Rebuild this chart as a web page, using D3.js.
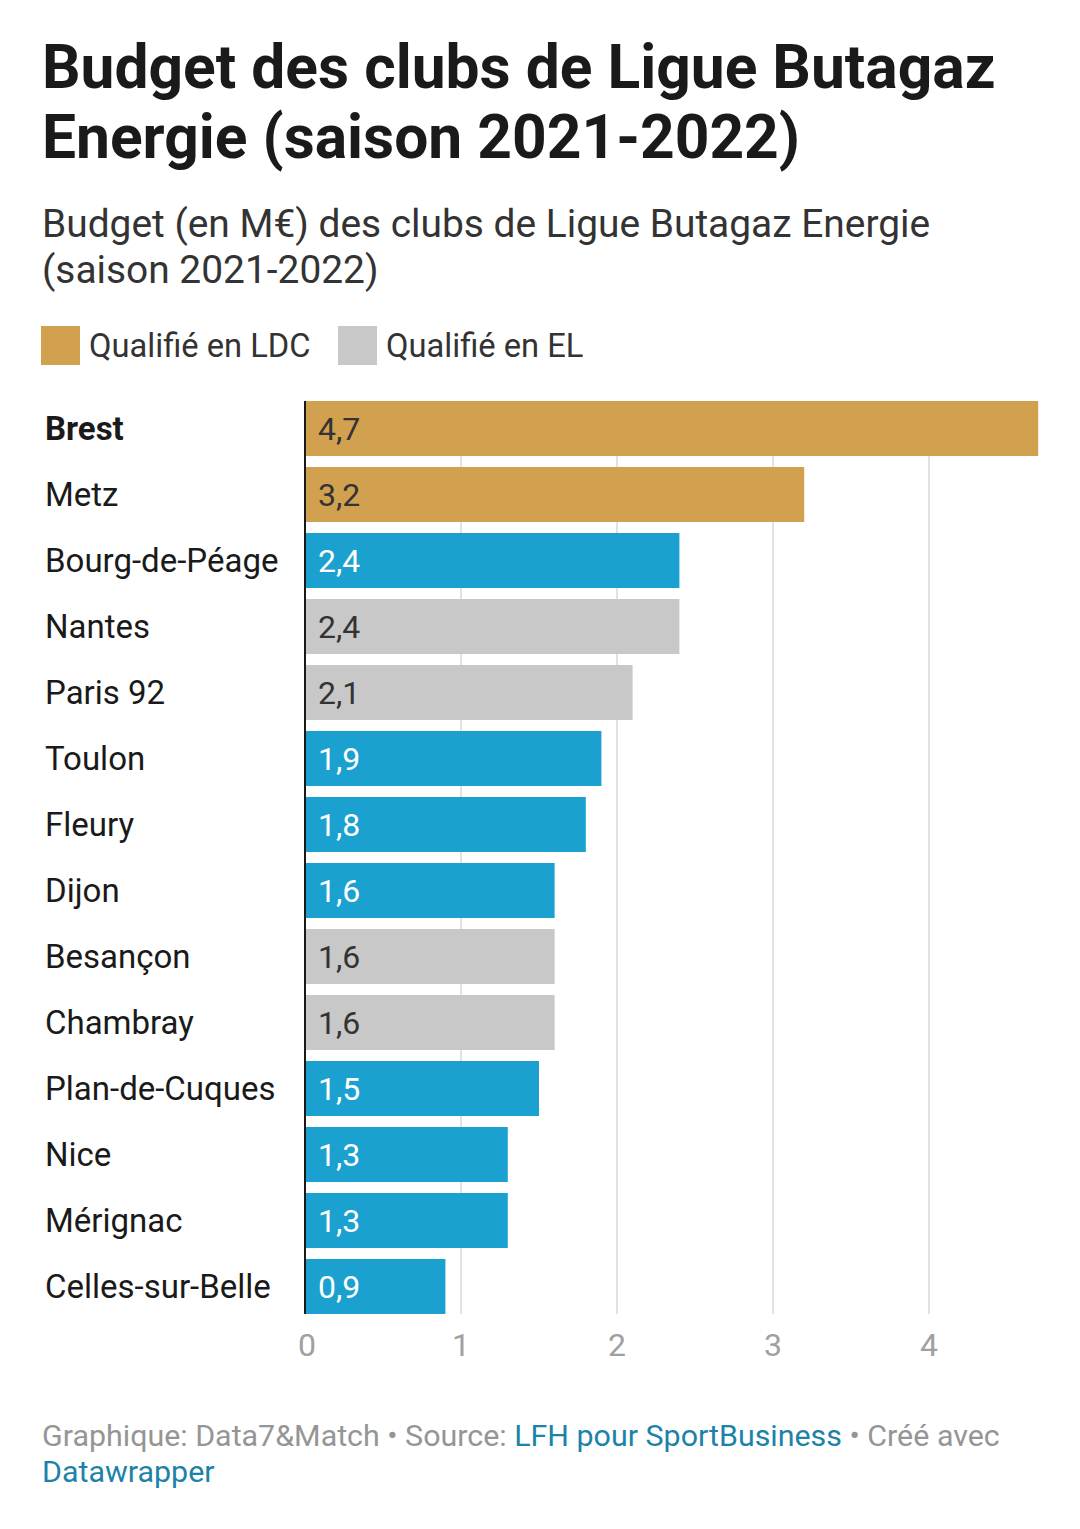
<!DOCTYPE html>
<html>
<head>
<meta charset="utf-8">
<script src="https://cdn.jsdelivr.net/npm/d3@7"></script>
<style>
  body { margin: 0; background: #fff; font-family: Roboto, sans-serif; }
  svg text { font-family: Roboto, sans-serif; }
</style>
</head>
<body>
<div id="chart"></div>
<script>
// Data
const clubs = ['Brest', 'Metz', 'Bourg-de-Péage', 'Nantes', 'Paris 92', 'Toulon', 'Fleury', 'Dijon',
    'Besançon', 'Chambray', 'Plan-de-Cuques', 'Nice', 'Mérignac', 'Celles-sur-Belle'];
const budgets = [4.7, 3.2, 2.4, 2.4, 2.1, 1.9, 1.8, 1.6, 1.6, 1.6, 1.5, 1.3, 1.3, 0.9];
const groups = ['LDC', 'LDC', 'none', 'EL', 'EL', 'none', 'none', 'none', 'EL', 'EL', 'none', 'none', 'none', 'none'];
const legendLabels = ['Qualifié en LDC', 'Qualifié en EL'];
const xTicks = [0, 1, 2, 3, 4];

const width = 1080, height = 1529;
const colors = { LDC: '#d1a150', EL: '#c8c8c8', none: '#1ba1d0' };

const svg = d3.select('#chart').append('svg')
    .attr('width', width)
    .attr('height', height);

// Title
const title = svg.append('text')
    .attr('x', 42).attr('y', 88)
    .attr('font-size', 60.5).attr('font-weight', 700).attr('fill', '#1a1a1a');
title.append('tspan').attr('x', 42).text('Budget des clubs de Ligue Butagaz');
title.append('tspan').attr('x', 42).attr('dy', 70).text('Energie (saison 2021-2022)');

// Subtitle
const sub = svg.append('text')
    .attr('x', 42).attr('y', 237)
    .attr('font-size', 38.9).attr('fill', '#333');
sub.append('tspan').attr('x', 42).text('Budget (en M€) des clubs de Ligue Butagaz Energie');
sub.append('tspan').attr('x', 42).attr('dy', 46).text('(saison 2021-2022)');

// Legend
const legendItems = [
    { label: legendLabels[0], color: colors.LDC, x: 41 },
    { label: legendLabels[1], color: colors.EL, x: 338 }
];
const legend = svg.selectAll('.legend')
    .data(legendItems)
    .enter().append('g')
        .attr('class', 'legend')
        .attr('transform', d => `translate(${d.x}, 326)`);
legend.append('rect')
    .attr('width', 39).attr('height', 39)
    .attr('fill', d => d.color);
legend.append('text')
    .attr('x', 48).attr('y', 31)
    .attr('font-size', 32.7).attr('fill', '#333')
    .text(d => d.label);

// Scales: step 66, bar height 55
const x = d3.scaleLinear().domain([0, 4]).range([305, 929]);
const y = d3.scaleBand().domain(clubs)
    .range([401, 401 + 66 * clubs.length - 11])
    .paddingInner(11 / 66).paddingOuter(0).align(0);
const bottom = y(clubs[clubs.length - 1]) + y.bandwidth();

// Gridlines
svg.selectAll('.grid')
    .data(xTicks.slice(1))
    .enter().append('line')
        .attr('class', 'grid')
        .attr('x1', d => x(d)).attr('x2', d => x(d))
        .attr('y1', 401).attr('y2', bottom)
        .attr('stroke', '#e2e2e2').attr('stroke-width', 2);

// Bars
const rows = clubs.map((c, i) => ({ club: c, value: budgets[i], group: groups[i] }));
svg.selectAll('.bar')
    .data(rows)
    .enter().append('rect')
        .attr('class', 'bar')
        .attr('x', x(0))
        .attr('y', d => y(d.club))
        .attr('width', d => x(d.value) - x(0))
        .attr('height', y.bandwidth())
        .attr('fill', d => colors[d.group]);

// Value labels
svg.selectAll('.value')
    .data(rows)
    .enter().append('text')
        .attr('class', 'value')
        .attr('x', x(0) + 13)
        .attr('y', d => y(d.club) + y.bandwidth() / 2 + 11)
        .attr('font-size', 32)
        .attr('fill', d => d.group === 'none' ? '#fff' : '#333')
        .text(d => d3.format('.1f')(d.value).replace('.', ','));

// Category labels
svg.selectAll('.label')
    .data(rows)
    .enter().append('text')
        .attr('class', 'label')
        .attr('x', 45)
        .attr('y', d => y(d.club) + y.bandwidth() / 2 + 11)
        .attr('font-size', 33)
        .attr('font-weight', (d, i) => i === 0 ? 700 : 400)
        .attr('fill', '#1a1a1a')
        .text(d => d.club);

// Baseline
svg.append('line')
    .attr('x1', x(0)).attr('x2', x(0))
    .attr('y1', 401).attr('y2', bottom)
    .attr('stroke', '#1a1a1a').attr('stroke-width', 2);

// X axis labels
svg.selectAll('.tick-label')
    .data(xTicks)
    .enter().append('text')
        .attr('class', 'tick-label')
        .attr('x', d => x(d) + (d === 0 ? 2 : 0))
        .attr('y', 1356)
        .attr('text-anchor', 'middle')
        .attr('font-size', 32)
        .attr('fill', '#a0a0a0')
        .text(d => d);

// Footer
const foot = svg.append('text')
    .attr('x', 42).attr('y', 1446)
    .attr('font-size', 30.4).attr('fill', '#959595');
foot.append('tspan').text('Graphique: Data7&Match • Source: ');
foot.append('tspan').attr('fill', '#1d82a8').text('LFH pour SportBusiness');
foot.append('tspan').text(' • Créé avec');
svg.append('text')
    .attr('x', 42).attr('y', 1482)
    .attr('font-size', 30.4).attr('fill', '#1d82a8')
    .text('Datawrapper');
</script>
</body>
</html>
